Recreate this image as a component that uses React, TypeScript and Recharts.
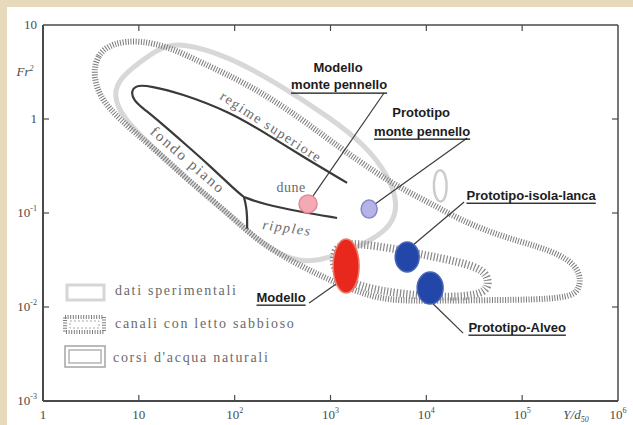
import React from 'react';
import { ComposedChart, Scatter, XAxis, YAxis } from 'recharts';

// axis ticks (log scales)
const xTicks = [1, 10, 100, 1000, 10000, 100000, 1000000];
const yTicks = [0.001, 0.01, 0.1, 1, 10];

// envelope: dati sperimentali
const experimentalEnvelope = [
  { x: 26.9, y: 6.59 }, { x: 89.5, y: 4.57 }, { x: 298, y: 2.3 }, { x: 991, y: 1.03 },
  { x: 2300, y: 0.528 }, { x: 3990, y: 0.2535 }, { x: 5080, y: 0.1277 }, { x: 4400, y: 0.0745 },
  { x: 2720, y: 0.0516 }, { x: 1259, y: 0.036 }, { x: 482, y: 0.0273 }, { x: 184, y: 0.048 },
  { x: 89.5, y: 0.0953 }, { x: 34.2, y: 0.214 }, { x: 13.1, y: 0.528 }, { x: 6.8, y: 1.03 },
  { x: 5.38, y: 1.8 }, { x: 6.37, y: 2.73 }, { x: 10.3, y: 4.04 }, { x: 16.6, y: 5.69 },
];

// envelope: large hatched band
const sandChannelEnvelope = [
  { x: 3.33, y: 2.94 }, { x: 3.66, y: 4.8 }, { x: 5.25, y: 6.44 }, { x: 10.3, y: 6.92 },
  { x: 22.2, y: 5.69 }, { x: 43.5, y: 4.04 }, { x: 145, y: 2.3 }, { x: 482, y: 1.03 },
  { x: 1259, y: 0.491 }, { x: 2920, y: 0.273 }, { x: 5330, y: 0.1845 }, { x: 10960, y: 0.1277 },
  { x: 22500, y: 0.0843 }, { x: 58900, y: 0.0569 }, { x: 154000, y: 0.0435 }, { x: 295000, y: 0.0332 },
  { x: 403000, y: 0.0236 }, { x: 403000, y: 0.0159 }, { x: 317000, y: 0.01217 }, { x: 58900, y: 0.01186 },
  { x: 8610, y: 0.01159 }, { x: 3300, y: 0.01186 }, { x: 1259, y: 0.01714 }, { x: 482, y: 0.0273 },
  { x: 184, y: 0.048 }, { x: 89.5, y: 0.0953 }, { x: 34.2, y: 0.214 }, { x: 13.1, y: 0.528 },
  { x: 6.37, y: 0.976 }, { x: 3.94, y: 1.67 },
];

// envelope: loop around the prototype points
const naturalStreamsLoop = [
  { x: 1259, y: 0.0491 }, { x: 3300, y: 0.0446 }, { x: 8610, y: 0.0366 }, { x: 22500, y: 0.0301 },
  { x: 40100, y: 0.0248 }, { x: 45300, y: 0.01845 }, { x: 41100, y: 0.01374 }, { x: 17700, y: 0.01247 },
  { x: 5330, y: 0.01374 }, { x: 2040, y: 0.01633 }, { x: 1117, y: 0.0219 }, { x: 1040, y: 0.0357 },
];

const smallLoop = [
  { x: 13900, y: 0.301 }, { x: 16100, y: 0.2535 }, { x: 16500, y: 0.176 }, { x: 15300, y: 0.131 },
  { x: 13000, y: 0.131 }, { x: 11800, y: 0.176 }, { x: 12100, y: 0.2535 },
];

// regime boundaries
const regimeCurve = [
  { x: 1490, y: 0.209 }, { x: 482, y: 0.414 }, { x: 234, y: 0.659 }, { x: 89.5, y: 1.19 },
  { x: 26.9, y: 1.89 }, { x: 13.1, y: 2.24 }, { x: 9.8, y: 2.3 }, { x: 8.3, y: 2.04 },
  { x: 8.7, y: 1.59 }, { x: 11.6, y: 1.25 }, { x: 16.6, y: 0.929 }, { x: 30.4, y: 0.542 },
  { x: 55.4, y: 0.316 }, { x: 101, y: 0.176 }, { x: 125, y: 0.148 },
];
const ripplesLine = [
  { x: 125, y: 0.148 }, { x: 193, y: 0.125 }, { x: 482, y: 0.103 }, { x: 1172, y: 0.0885 },
];
const branchLine = [
  { x: 125, y: 0.148 }, { x: 132, y: 0.118 }, { x: 135, y: 0.092 }, { x: 135, y: 0.068 },
];

// measured conditions
const ovals = [
  { name: 'dune', x: 583, y: 0.125 },
  { name: 'protoMonte', x: 2530, y: 0.11 },
  { name: 'modello', x: 1455, y: 0.0273 },
  { name: 'isolaLanca', x: 6310, y: 0.034 },
  { name: 'alveo', x: 10960, y: 0.0159 },
];

const leaders = [
  { id: 'modelloMonte', points: [{ x: 3620, y: 1.89 }, { x: 658, y: 0.152 }] },
  { id: 'protoMonte', points: [{ x: 26700, y: 0.628 }, { x: 2920, y: 0.125 }] },
  { id: 'isolaLanca', points: [{ x: 24800, y: 0.131 }, { x: 7280, y: 0.0457 }] },
  { id: 'alveo', points: [{ x: 24200, y: 0.00528 }, { x: 11800, y: 0.01076 }] },
  { id: 'modello', points: [{ x: 598, y: 0.01104 }, { x: 1143, y: 0.01758 }] },
];

const annotations = [
  { id: 'modelloMonte', text: 'Modello', x: 1200, y: 3.57 },
  { id: 'modelloMonteSub', text: 'monte pennello', x: 1230, y: 2.3 },
  { id: 'protoMonte', text: 'Prototipo', x: 8830, y: 1.16 },
  { id: 'protoMonteSub', text: 'monte pennello', x: 9040, y: 0.745 },
  { id: 'isolaLanca', text: 'Prototipo-isola-lanca', x: 124000, y: 0.155 },
  { id: 'modello', text: 'Modello', x: 305, y: 0.01277 },
  { id: 'alveo', text: 'Prototipo-Alveo', x: 88700, y: 0.00612 },
  { id: 'regime', text: 'regime superiore', x: 240, y: 0.822 },
  { id: 'fondo', text: 'fondo piano', x: 32.6, y: 0.366 },
  { id: 'dune', text: 'dune', x: 388, y: 0.1845 },
  { id: 'ripples', text: 'ripples', x: 352, y: 0.0692 },
];

const ovalStyles: Record<string, any> = {
  dune: { rx: 9, ry: 9, fill: '#f3aab4', stroke: '#e58896' },
  protoMonte: { rx: 8, ry: 9, fill: '#b6b4e6', stroke: '#8886cc' },
  modello: { rx: 13, ry: 27, fill: '#e8281c', stroke: '#f07a6a' },
  isolaLanca: { rx: 12, ry: 15, fill: '#2347a8', stroke: '#4a66b8' },
  alveo: { rx: 13, ry: 16, fill: '#2347a8', stroke: '#4a66b8' },
};

const bold = { fontFamily: '"Liberation Sans", Arial, sans-serif', fontWeight: 700, fontSize: 13, fill: '#1c1c1c' };
const serifGray = { fontFamily: '"Liberation Serif", serif', fontSize: 14, fill: '#6a6a6a' };

const labelStyles: Record<string, any> = {
  modelloMonte: { ...bold },
  modelloMonteSub: { ...bold, textDecoration: 'underline' },
  protoMonte: { ...bold },
  protoMonteSub: { ...bold, textDecoration: 'underline' },
  isolaLanca: { ...bold, textDecoration: 'underline' },
  modello: { ...bold, textDecoration: 'underline' },
  alveo: { ...bold, textDecoration: 'underline' },
  regime: { ...serifGray, letterSpacing: 1.5, angle: 33 },
  fondo: { ...serifGray, fontSize: 15, letterSpacing: 2, angle: 41 },
  dune: { ...serifGray, letterSpacing: 0.5 },
  ripples: { ...serifGray, fontStyle: 'italic', letterSpacing: 1.5, angle: 8 },
};

const tickFont = { fontFamily: '"Liberation Serif", serif', fontSize: 13, fill: '#4a4a4a' };
const axisColor = '#4a4a4a';
const noPoint = () => <g />;

const expLabel = (v: number, dy: number) => {
  const e = Math.round(Math.log10(v));
  if (e === 0) return '1';
  if (e === 1) return '10';
  return (
    <>
      10<tspan dy={dy} fontSize={8}>{e}</tspan>
    </>
  );
};

const BottomTick = (props: any) => {
  const { x, y, payload } = props;
  const v = payload.value;
  return (
    <g>
      {v > 1 && v < 1e6 && <line x1={x} y1={y} x2={x} y2={y - 6} stroke={axisColor} strokeWidth={1.2} />}
      <text x={x} y={y + 18} textAnchor="middle" style={tickFont}>{expLabel(v, -6)}</text>
      {v === 1e6 && (
        <text x={x - 42} y={y + 18} textAnchor="middle" style={{ ...tickFont, fontStyle: 'italic' }}>
          Y/d<tspan dy={3} fontSize={8}>50</tspan>
        </text>
      )}
    </g>
  );
};

const TopTick = (props: any) => {
  const { x, y, payload } = props;
  const v = payload.value;
  if (v <= 1 || v >= 1e6) return <g />;
  return <line x1={x} y1={y} x2={x} y2={y + 6} stroke={axisColor} strokeWidth={1.2} />;
};

const LeftTick = (props: any) => {
  const { x, y, payload } = props;
  const v = payload.value;
  const e = Math.round(Math.log10(v));
  return (
    <g>
      {v > 0.001 && v < 10 && <line x1={x} y1={y} x2={x + 6} y2={y} stroke={axisColor} strokeWidth={1.2} />}
      <text x={x - 6} y={y + 4} textAnchor="end" style={tickFont}>
        {e >= 0 ? expLabel(v, 0) : (
          <>
            10<tspan dy={-6} fontSize={8}>{e}</tspan>
          </>
        )}
      </text>
      {v === 10 && (
        <text x={x - 18} y={y + 51} textAnchor="middle" style={{ ...tickFont, fontStyle: 'italic' }}>
          Fr<tspan dy={-5} fontSize={8}>2</tspan>
        </text>
      )}
    </g>
  );
};

const RightTick = (props: any) => {
  const { x, y, payload } = props;
  const v = payload.value;
  if (v <= 0.001 || v >= 10) return <g />;
  return <line x1={x} y1={y} x2={x - 6} y2={y} stroke={axisColor} strokeWidth={1.2} />;
};

const renderOval = (p: any) => {
  const s = ovalStyles[p.payload.name];
  return <ellipse cx={p.cx} cy={p.cy} rx={s.rx} ry={s.ry} fill={s.fill} stroke={s.stroke} strokeWidth={1.5} />;
};

const renderLabel = (p: any) => {
  const { angle, ...style } = labelStyles[p.payload.id];
  return (
    <text
      x={p.cx}
      y={p.cy}
      textAnchor="middle"
      dominantBaseline="central"
      transform={angle ? `rotate(${angle} ${p.cx} ${p.cy})` : undefined}
      style={style}
    >
      {p.payload.text}
    </text>
  );
};

function LegendBox() {
  const t = { fontFamily: '"Liberation Serif", serif', fontSize: 14, fill: '#6a6a6a', letterSpacing: 1.7 };
  return (
    <svg width={633} height={425} style={{ position: 'absolute', left: 0, top: 0, pointerEvents: 'none' }}>
      <rect x={67} y={285} width={37} height={15} fill="none" stroke="#d6d6d6" strokeWidth={3} />
      <text x={115} y={295} style={t}>dati sperimentali</text>
      <rect x={65} y={317} width={39} height={15} fill="none" stroke="#7e7e7e" strokeWidth={4} strokeDasharray="1 1.6" />
      <rect x={70} y={321} width={29} height={7} fill="none" stroke="#a8a8a8" strokeWidth={1} strokeDasharray="2 2" />
      <text x={115} y={328} style={t}>canali con letto sabbioso</text>
      <rect x={65} y={346} width={40} height={21} fill="none" stroke="#a4a4a4" strokeWidth={1.5} />
      <rect x={69} y={350} width={32} height={13} fill="none" stroke="#b4b4b4" strokeWidth={1.5} />
      <text x={113} y={362} style={t}>corsi d'acqua naturali</text>
    </svg>
  );
}

export default function App() {
  return (
    <div style={{ position: 'absolute', left: 0, top: 0, width: 633, height: 425, background: '#e7d9bb' }}>
      <div style={{ position: 'absolute', left: 7, top: 7, width: 626, height: 418, background: '#ffffff' }} />
      <div style={{ position: 'absolute', left: 0, top: 0 }}>
        <ComposedChart width={633} height={425} margin={{ top: 24, right: 14, bottom: 23, left: 42 }}>
          <XAxis
            dataKey="x" type="number" scale="log" domain={[1, 1e6]} ticks={xTicks} allowDataOverflow
            height={1} interval={0} tickSize={0} tickMargin={0} tickLine={false}
            axisLine={{ stroke: axisColor, strokeWidth: 2 }} tick={<BottomTick />}
          />
          <XAxis
            xAxisId="top" orientation="top" dataKey="x" type="number" scale="log" domain={[1, 1e6]}
            ticks={xTicks} allowDataOverflow height={1} interval={0} tickSize={0} tickMargin={0}
            tickLine={false} axisLine={{ stroke: axisColor, strokeWidth: 1.5 }} tick={<TopTick />}
          />
          <YAxis
            dataKey="y" type="number" scale="log" domain={[0.001, 10]} ticks={yTicks} allowDataOverflow
            width={1} interval={0} tickSize={0} tickMargin={0} tickLine={false}
            axisLine={{ stroke: axisColor, strokeWidth: 2 }} tick={<LeftTick />}
          />
          <YAxis
            yAxisId="right" orientation="right" dataKey="y" type="number" scale="log" domain={[0.001, 10]}
            ticks={yTicks} allowDataOverflow width={1} interval={0} tickSize={0} tickMargin={0}
            tickLine={false} axisLine={{ stroke: axisColor, strokeWidth: 1.5 }} tick={<RightTick />}
          />

          <Scatter data={experimentalEnvelope} shape={noPoint} line={{ stroke: '#d8d8d8', strokeWidth: 5, fill: 'none' }}
            lineJointType="basisClosed" isAnimationActive={false} legendType="none" />
          <Scatter data={sandChannelEnvelope} shape={noPoint}
            line={{ stroke: '#7a7a7a', strokeWidth: 6, strokeDasharray: '1 1.6', fill: 'none' }}
            lineJointType="basisClosed" isAnimationActive={false} legendType="none" />
          <Scatter data={naturalStreamsLoop} shape={noPoint}
            line={{ stroke: '#888888', strokeWidth: 8, strokeDasharray: '1.2 2', fill: 'none' }}
            lineJointType="basisClosed" isAnimationActive={false} legendType="none" />
          <Scatter data={smallLoop} shape={noPoint} line={{ stroke: '#cccccc', strokeWidth: 2.5, fill: 'none' }}
            lineJointType="basisClosed" isAnimationActive={false} legendType="none" />

          <Scatter data={regimeCurve} shape={noPoint} line={{ stroke: '#3a3a3a', strokeWidth: 2.2, fill: 'none' }}
            lineJointType="basis" isAnimationActive={false} legendType="none" />
          <Scatter data={ripplesLine} shape={noPoint} line={{ stroke: '#3a3a3a', strokeWidth: 2.2, fill: 'none' }}
            lineJointType="basis" isAnimationActive={false} legendType="none" />
          <Scatter data={branchLine} shape={noPoint} line={{ stroke: '#3a3a3a', strokeWidth: 2.2, fill: 'none' }}
            lineJointType="basis" isAnimationActive={false} legendType="none" />

          {leaders.map((l) => (
            <Scatter key={l.id} data={l.points} shape={noPoint} line={{ stroke: '#3c3c3c', strokeWidth: 1.2, fill: 'none' }}
              lineJointType="linear" isAnimationActive={false} legendType="none" />
          ))}

          <Scatter data={ovals} shape={renderOval} isAnimationActive={false} legendType="none" />
          <Scatter data={annotations} shape={renderLabel} isAnimationActive={false} legendType="none" />
        </ComposedChart>
      </div>
      <LegendBox />
    </div>
  );
}
